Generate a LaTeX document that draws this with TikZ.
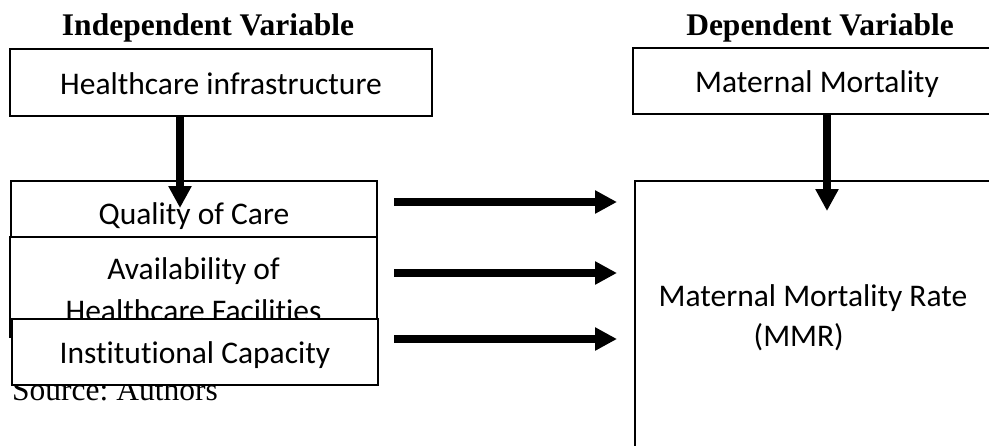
\documentclass[tikz,border=0pt]{standalone}
\usepackage{fontspec}
\setmainfont{Liberation Serif}
\newfontfamily\boxfont[Ligatures=NoCommon]{Carlito}
\usetikzlibrary{arrows.meta,positioning}
\frenchspacing

\tikzset{
  varbox/.style={draw, line width=2pt, fill=white, inner sep=0pt,
    font=\boxfont\fontsize{31.5}{37}\selectfont, align=center},
  oneline/.style={text height=23pt, text depth=0pt},
  heading/.style={font=\bfseries\fontsize{31.5}{37}\selectfont, inner sep=0pt, anchor=base},
  bigarrow/.style={line width=7.5pt, -{Triangle[length=22pt,width=22pt]}},
}

\begin{document}
\begin{tikzpicture}[x=1pt,y=-1pt]
  \useasboundingbox (0,0) rectangle (989,445);
  % headings
  \node[heading] (indep) at (208,35) {Independent Variable};
  \node[heading] (dep) at (820,35) {Dependent Variable};
  \node[anchor=base west, inner sep=0pt, font=\fontsize{31.5}{37}\selectfont] (source) at (12,400) {Source: Authors};
  % independent side
  \node[varbox, oneline, minimum width=422, minimum height=67] (infra) at (221,82.5) {Healthcare infrastructure};
  \node[varbox, font=\boxfont\fontsize{31.5}{42}\selectfont, text height=68pt, text depth=0pt, minimum width=367, minimum height=100] (avail) at (193.5,287) {Availability of\\Healthcare Facilities};
  \node[varbox, oneline, minimum width=366, minimum height=66] (inst) at (195,352) {Institutional Capacity};
  \node[varbox, oneline, text height=30pt, minimum width=366, minimum height=56] (qual) at (194,209) {Quality of Care};
  % dependent side
  \node[varbox, oneline, minimum width=368, minimum height=66] (mort) at (817,81) {Maternal Mortality};
  \node[varbox, font=\boxfont\fontsize{31.5}{40}\selectfont, text height=52pt, text depth=0pt, minimum width=356, minimum height=278, align=left] (mmr) at (813,320) {Maternal Mortality Rate\\\hspace*{95pt}(MMR)};
  % arrows
  \draw[bigarrow] ([xshift=-41pt]infra.south) -- ++(0,91);
  \draw[bigarrow] ([xshift=10pt]mort.south) -- ++(0,96);
  \draw[bigarrow] ([xshift=16pt,yshift=7pt]qual.east) -- ([xshift=-17pt,yshift=7pt]qual.east -| mmr.west);
  \draw[bigarrow] ([xshift=16pt,yshift=14pt]avail.east) -- ([xshift=-17pt,yshift=14pt]avail.east -| mmr.west);
  \draw[bigarrow] ([xshift=15pt,yshift=13pt]inst.east) -- ([xshift=-17pt,yshift=13pt]inst.east -| mmr.west);
\end{tikzpicture}
\end{document}
